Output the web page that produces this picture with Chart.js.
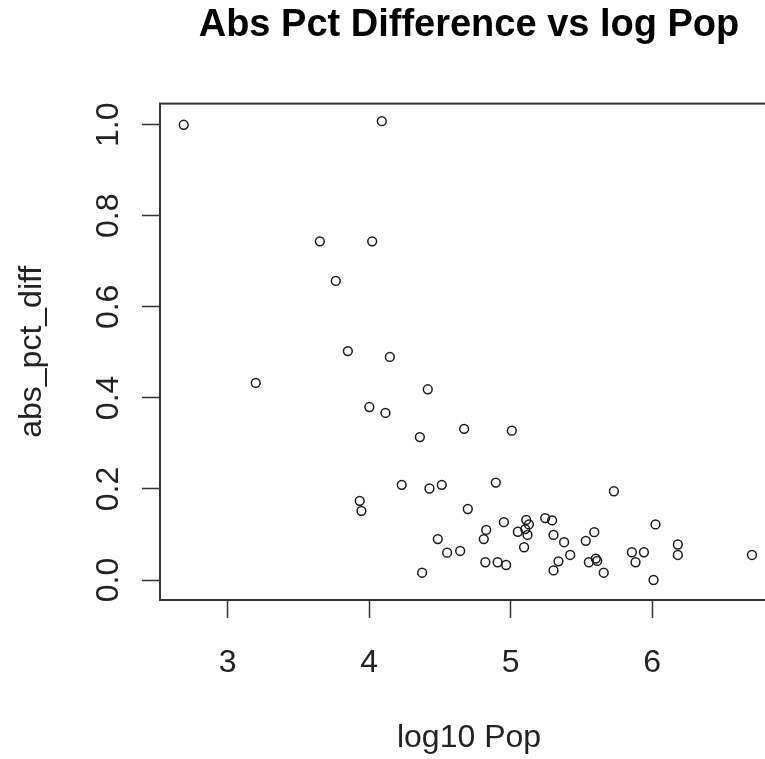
<!DOCTYPE html>
<html>
<head>
<meta charset="utf-8">
<script src="https://cdn.jsdelivr.net/npm/chart.js@4"></script>
<style>
  html, body { margin: 0; padding: 0; background: #fff; overflow: hidden; }
  #wrap { position: absolute; left: 0; top: 0; width: 800px; height: 759px; }
</style>
</head>
<body>
<div id="wrap"><canvas id="c" width="800" height="759"></canvas></div>
<script>
// ---- data ----
const logPop = [
  2.689, 4.089, 3.651, 4.021, 3.764, 3.849, 4.146, 3.198, 4.414, 4.001,
  4.115, 4.358, 4.671, 5.008, 4.230, 4.426, 4.513, 4.895, 5.730, 3.933,
  3.945, 4.697, 4.485, 4.551, 4.643, 4.374, 4.952, 4.827, 4.810, 5.110,
  5.129, 5.051, 5.103, 5.119, 5.095, 5.244, 5.293, 5.303, 5.378, 5.421,
  5.338, 5.303, 4.821, 4.908, 4.968, 5.531, 5.591, 5.553, 5.602, 5.612,
  5.658, 5.857, 5.942, 5.883, 6.024, 6.010, 6.182, 6.182, 6.706
];
const absPctDiff = [
  1.000, 1.008, 0.744, 0.744, 0.657, 0.503, 0.490, 0.433, 0.419, 0.380,
  0.367, 0.314, 0.332, 0.328, 0.209, 0.201, 0.209, 0.214, 0.195, 0.174,
  0.152, 0.156, 0.090, 0.060, 0.064, 0.016, 0.127, 0.110, 0.090, 0.132,
  0.122, 0.106, 0.112, 0.099, 0.072, 0.136, 0.131, 0.099, 0.083, 0.055,
  0.041, 0.021, 0.039, 0.039, 0.033, 0.086, 0.105, 0.039, 0.047, 0.042,
  0.016, 0.061, 0.061, 0.039, 0.122, 0.000, 0.078, 0.055, 0.055
];
const xTicks = [3, 4, 5, 6];
const xTickLabels = ["3", "4", "5", "6"];
const yTicks = [0.0, 0.2, 0.4, 0.6, 0.8, 1.0];
const yTickLabels = ["0.0", "0.2", "0.4", "0.6", "0.8", "1.0"];
const titleText = "Abs Pct Difference vs log Pop";
const xLabel = "log10 Pop";
const yLabel = "abs_pct_diff";
const xRange = [2.521, 6.89];
const yRange = [-0.0439, 1.0465];

// ---- chart ----
const points = logPop.map((x, i) => ({ x: x, y: absPctDiff[i] }));
const FONT = "'Liberation Sans', Arial, sans-serif";
const AX = '#333333';
const TXT = '#222222';

const boxPlugin = {
  id: 'rBox',
  afterDraw(chart) {
    const a = chart.chartArea, ctx = chart.ctx;
    ctx.save();
    ctx.strokeStyle = AX;
    ctx.lineWidth = 2;
    ctx.strokeRect(a.left, a.top, a.right - a.left, a.bottom - a.top);
    ctx.restore();
  }
};

new Chart(document.getElementById('c'), {
  type: 'scatter',
  data: {
    datasets: [{
      data: points,
      pointStyle: 'circle',
      pointRadius: 4.4,
      pointBorderWidth: 1.5,
      borderColor: '#1a1a1a',
      backgroundColor: 'rgba(0,0,0,0)',
      pointHoverRadius: 4.4
    }]
  },
  options: {
    responsive: false,
    animation: false,
    events: [],
    layout: { padding: { left: 0, right: 22, top: 0, bottom: 0 } },
    plugins: {
      legend: { display: false },
      tooltip: { enabled: false },
      title: {
        display: true,
        text: titleText,
        fullSize: false,
        color: '#000',
        font: { family: FONT, size: 38, weight: 'bold', lineHeight: 1.2 },
        padding: { top: 3, bottom: 55 }
      }
    },
    scales: {
      x: {
        type: 'linear',
        min: xRange[0],
        max: xRange[1],
        afterBuildTicks: (s) => { s.ticks = xTicks.map(v => ({ value: v })); },
        afterFit: (s) => { s.height = 159; },
        grid: { display: true, drawOnChartArea: false, drawTicks: true, tickLength: 18, tickColor: AX, tickWidth: 1.5 },
        border: { display: true, color: AX, width: 2 },
        ticks: {
          maxRotation: 0, minRotation: 0, autoSkip: false,
          padding: 25.6,
          color: TXT,
          font: { family: FONT, size: 32 },
          callback: (v) => { const i = xTicks.indexOf(v); return i >= 0 ? xTickLabels[i] : ''; }
        },
        title: {
          display: true, text: xLabel, color: TXT,
          font: { family: FONT, size: 32, lineHeight: 1.2 },
          padding: { top: 0, bottom: 2 }
        }
      },
      y: {
        type: 'linear',
        min: yRange[0],
        max: yRange[1],
        afterBuildTicks: (s) => { s.ticks = yTicks.map(v => ({ value: v })); },
        afterFit: (s) => { s.width = 160; },
        grid: { display: true, drawOnChartArea: false, drawTicks: true, tickLength: 18, tickColor: AX, tickWidth: 1.5 },
        border: { display: true, color: AX, width: 2 },
        ticks: {
          minRotation: 90, maxRotation: 90, autoSkip: false,
          crossAlign: 'center',
          padding: 11,
          color: TXT,
          font: { family: FONT, size: 32 },
          callback: (v) => { const i = yTicks.findIndex(t => Math.abs(t - v) < 1e-9); return i >= 0 ? yTickLabels[i] : ''; }
        },
        title: {
          display: true, text: yLabel, color: TXT,
          font: { family: FONT, size: 32, lineHeight: 1.2 },
          padding: { top: 13, bottom: 0 }
        }
      }
    }
  },
  plugins: [boxPlugin]
});
</script>
</body>
</html>
